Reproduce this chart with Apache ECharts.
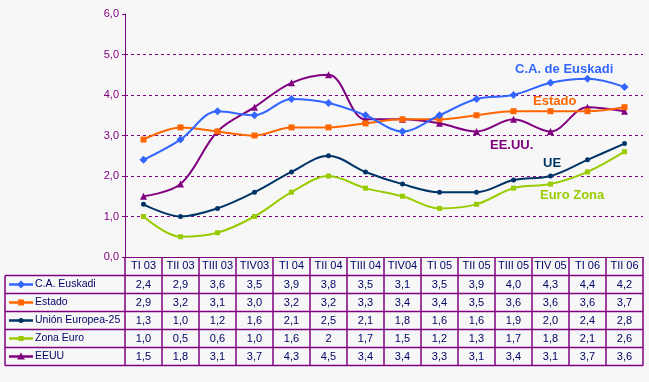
<!DOCTYPE html>
<html><head><meta charset="utf-8">
<script src="https://cdn.jsdelivr.net/npm/echarts@6/dist/echarts.min.js"></script>
<style>html,body{margin:0;padding:0;background:#f7f7f7}#c{width:649px;height:382px}</style>
</head><body><div id="c"></div>
<script>
const categories = ['TI 03','TII 03','TIII 03','TIV03','TI 04','TII 04','TIII 04','TIV04','TI 05','TII 05','TIII 05','TIV 05','TI 06','TII 06'];
const euskadi   = [2.4,2.9,3.6,3.5,3.9,3.8,3.5,3.1,3.5,3.9,4.0,4.3,4.4,4.2];
const estado    = [2.9,3.2,3.1,3.0,3.2,3.2,3.3,3.4,3.4,3.5,3.6,3.6,3.6,3.7];
const ue25      = [1.3,1.0,1.2,1.6,2.1,2.5,2.1,1.8,1.6,1.6,1.9,2.0,2.4,2.8];
const zonaEuro  = [1.0,0.5,0.6,1.0,1.6,2.0,1.7,1.5,1.2,1.3,1.7,1.8,2.1,2.6];
const eeuu      = [1.5,1.8,3.1,3.7,4.3,4.5,3.4,3.4,3.3,3.1,3.4,3.1,3.7,3.6];
const yTicks = [0,1,2,3,4,5,6];
const gridLevels = [1,2,3,4,5];

const seriesDefs = [
  {name:'C.A. Euskadi', data:euskadi, color:'#3366ff', symbol:'diamond', size:8},
  {name:'Estado', data:estado, color:'#ff6600', symbol:'rect', size:6},
  {name:'Unión Europea-25', data:ue25, color:'#003366', symbol:'circle', size:5},
  {name:'Zona Euro', data:zonaEuro, color:'#99cc00', symbol:'rect', size:5},
  {name:'EEUU', data:eeuu, color:'#800080', symbol:'triangle', size:7}
];
const annotations = [
  {text:'C.A. de Euskadi', color:'#3366ff', x:515, y:69},
  {text:'Estado', color:'#ff6600', x:533, y:101},
  {text:'EE.UU.', color:'#800080', x:490, y:145},
  {text:'UE', color:'#003366', x:543, y:163},
  {text:'Euro Zona', color:'#99cc00', x:540, y:195}
];

const chart = echarts.init(document.getElementById('c'));
const PURPLE = '#800080';
const FONT = '"Liberation Sans"';
chart.setOption({
  backgroundColor:'#f7f7f7',
  animation:false,
  grid:{left:125,right:6,top:14,bottom:125},
  xAxis:{type:'category',data:categories,boundaryGap:true,
    axisLine:{lineStyle:{color:PURPLE,width:1}},axisTick:{show:false},axisLabel:{show:false}},
  yAxis:{type:'value',min:0,max:6,interval:1,
    axisLine:{show:true,lineStyle:{color:PURPLE,width:1}},
    axisTick:{show:true,length:3,lineStyle:{color:PURPLE}},
    axisLabel:{color:PURPLE,fontSize:11,fontFamily:'Liberation Sans',margin:6,formatter:v=>v.toFixed(1).replace('.',',')},
    splitLine:{show:false}},
  series: seriesDefs.map((s,k)=>({
    type:'line',name:s.name,data:s.data,smooth:0.35,
    symbol:s.symbol,symbolSize:s.size,showSymbol:true,
    lineStyle:{color:s.color,width:2},itemStyle:{color:s.color},
    z: 10-k,
    markLine: k===0 ? {silent:true,symbol:'none',label:{show:false},
      lineStyle:{color:PURPLE,type:[3,3],width:1},
      data:gridLevels.map(v=>({yAxis:v}))} : undefined
  }))
});

// table
const colW = chart.convertToPixel({xAxisIndex:0},categories[1]) - chart.convertToPixel({xAxisIndex:0},categories[0]);
const x0 = chart.convertToPixel({xAxisIndex:0},categories[0]) - colW/2;
const xEnd = x0 + colW*categories.length;
const yTop = chart.convertToPixel({yAxisIndex:0},0);
const headerH = 18.5;
const rowH = 18;
const leftX = 5;
const g = [];
const lineStyle = {stroke:PURPLE,lineWidth:1.5};
const rowsY = [yTop, yTop+headerH];
for(let r=1;r<=seriesDefs.length;r++) rowsY.push(yTop+headerH+rowH*r);
rowsY.forEach((y,i)=>{
  if(i===0) return;
  g.push({type:'line',shape:{x1:leftX,y1:y,x2:xEnd,y2:y},style:lineStyle,silent:true});
});
for(let c=0;c<=categories.length;c++){
  const x=x0+c*colW;
  g.push({type:'line',shape:{x1:x,y1:yTop,x2:x,y2:rowsY[rowsY.length-1]},style:lineStyle,silent:true});
}
g.push({type:'line',shape:{x1:leftX,y1:rowsY[1],x2:leftX,y2:rowsY[rowsY.length-1]},style:lineStyle,silent:true});
const TXT='#000066';
categories.forEach((c,i)=>{
  g.push({type:'text',x:x0+colW*(i+0.5),y:(rowsY[0]+rowsY[1])/2,
    style:{text:c,fill:TXT,font:'11px '+FONT,textAlign:'center',textVerticalAlign:'middle'},silent:true});
});
const fmt=(v,k,i)=> (k===3&&i===5)?'2':v.toFixed(1).replace('.',',');
seriesDefs.forEach((s,k)=>{
  const yc=(rowsY[k+1]+rowsY[k+2])/2;
  g.push({type:'line',shape:{x1:9,y1:yc,x2:33,y2:yc},style:{stroke:s.color,lineWidth:2.5},silent:true});
  const sz=s.size;
  let sym;
  if(s.symbol==='diamond') sym={type:'polygon',shape:{points:[[21,yc-4],[25,yc],[21,yc+4],[17,yc]]},style:{fill:s.color}};
  else if(s.symbol==='rect') sym={type:'rect',shape:{x:21-sz/2,y:yc-sz/2,width:sz,height:sz},style:{fill:s.color}};
  else if(s.symbol==='circle') sym={type:'circle',shape:{cx:21,cy:yc,r:2.5},style:{fill:s.color}};
  else sym={type:'polygon',shape:{points:[[21,yc-4],[25,yc+3],[17,yc+3]]},style:{fill:s.color}};
  sym.silent=true; g.push(sym);
  g.push({type:'text',x:35,y:yc,style:{text:s.name,fill:TXT,font:'10.5px '+FONT,textVerticalAlign:'middle'},silent:true});
  s.data.forEach((v,i)=>{
    g.push({type:'text',x:x0+colW*(i+0.5),y:yc,
      style:{text:fmt(v,k,i),fill:TXT,font:'11px '+FONT,textAlign:'center',textVerticalAlign:'middle'},silent:true});
  });
});
annotations.forEach(a=>{
  g.push({type:'text',x:a.x,y:a.y,style:{text:a.text,fill:a.color,font:'bold 13px "Liberation Sans"',textVerticalAlign:'middle'},silent:true});
});
chart.setOption({graphic:{elements:g}});
</script></body></html>
